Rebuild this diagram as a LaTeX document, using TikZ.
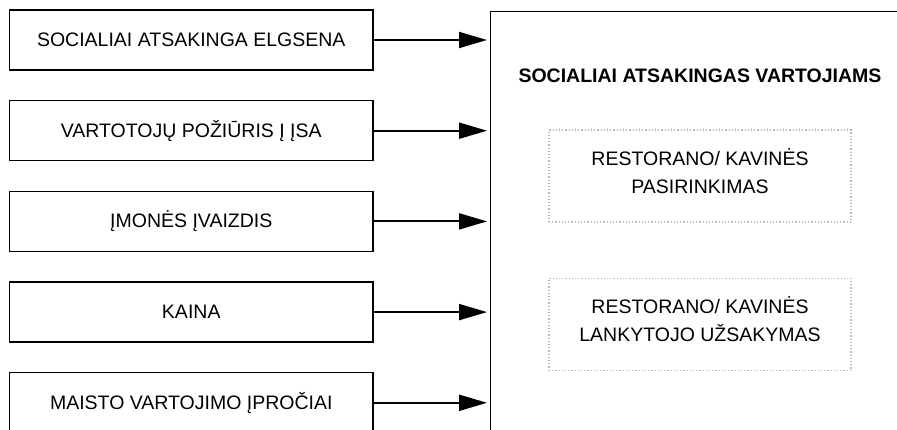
\documentclass[tikz,border=0pt]{standalone}
\usepackage{fontspec}
\setmainfont{Liberation Sans}
\usetikzlibrary{arrows.meta, positioning}

\begin{document}
\begin{tikzpicture}[x=1pt, y=-1pt, node distance=29.5pt,
	every node/.style={font=\fontsize{19.5}{28}\selectfont, align=center},
	factor/.style={draw, line width=1.2pt, minimum width=363.5pt, minimum height=60pt, inner sep=0pt},
	choice/.style={draw=gray!55, dotted, line width=1.2pt, minimum width=302pt, minimum height=92pt, text depth=10pt},
	link/.style={-{Triangle[length=28pt, width=16pt]}, line width=2pt, shorten >=3pt}]
	\useasboundingbox (0,0) rectangle (897,430);
	\clip (0,0) rectangle (897,430);

	\node[factor] (F1) at (191.25,40) {SOCIALIAI ATSAKINGA ELGSENA};
	\node[factor, below=of F1] (F2) {VARTOTOJŲ POŽIŪRIS Į ĮSA};
	\node[factor, below=of F2] (F3) {ĮMONĖS ĮVAIZDIS};
	\node[factor, below=of F3] (F4) {KAINA};
	\node[factor, below=of F4] (F5) {MAISTO VARTOJIMO ĮPROČIAI};

	\node[draw, line width=1.2pt, minimum width=420pt, minimum height=440pt, anchor=north west] (S) at (490,11) {};
	\node[font=\bfseries\fontsize{19.5}{28}\selectfont] (T) at (700,76) {SOCIALIAI ATSAKINGAS VARTOJIAMS};
	\node[choice] (C1) at (700,176) {RESTORANO/ KAVINĖS\\PASIRINKIMAS};
	\node[choice] (C2) at (700,324.5) {RESTORANO/ KAVINĖS\\LANKYTOJO UŽSAKYMAS};

	\draw[link] (F1.east) -- (F1 -| S.west);
	\draw[link] (F2.east) -- (F2 -| S.west);
	\draw[link] (F3.east) -- (F3 -| S.west);
	\draw[link] (F4.east) -- (F4 -| S.west);
	\draw[link] (F5.east) -- (F5 -| S.west);
\end{tikzpicture}
\end{document}
